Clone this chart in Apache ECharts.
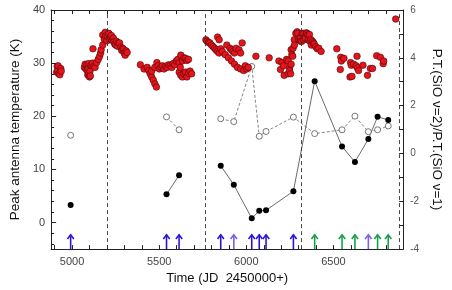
<!DOCTYPE html>
<html>
<head>
<meta charset="utf-8">
<script src="https://cdn.jsdelivr.net/npm/echarts@6/dist/echarts.min.js"></script>
<style>
html,body{margin:0;padding:0;background:#fff;}
#chart{width:452px;height:290px;}
</style>
</head>
<body>
<div id="chart"></div>
<script>
// ---- Data ----
const redJD = [4912,4915,4918,4920,4925,4930,4935,4938,
5071,5075,5080,5085,5088,5090,5092,5095,5097,5100,5103,5105,5108,5114,5118,5120,5125,5132,5141,5150,5158,5164,5167,5176,5176,5185,5190,5194,5200,5205,5211,5215,5220,5225,5230,5237,5240,5245,5250,5255,5260,5265,5273,5280,5285,5290,5295,5299,5305,5310,5316,
5392,
5413,5431,5440,5448,5457,5457,5466,5475,5475,5484,5487,5493,5501,5510,5519,5527,5536,5545,5554,5563,5572,5580,5589,5598,5607,5615,5615,5621,5624,5624,5633,5633,5642,5642,5651,5651,5659,5659,5668,5668,5677,5686,
5768,5774,5783,5791,5800,5809,5818,5826,5835,5835,5844,5844,5853,5862,5879,5888,5897,5906,5915,5915,5923,5932,5932,5941,5949,5958,5967,5967,5976,5985,5994,6002,6011,6055,6131,
6187,6196,6205,6213,6217,6231,6240,6240,6248,6248,6254,6257,6257,6261,6266,6268,6275,6276,6284,6292,6294,6301,6303,6310,6312,6318,6320,6327,6329,6336,6338,6344,6347,6353,6355,6362,6364,6371,6373,6380,6386,6389,6398,6407,6416,6429,
6519,6539,6542,6545,6560,6595,6598,6602,6606,6616,6630,6635,6638,6644,6669,6695,6712,6724,6748,6769,6785,6788,6857];
const redK = [28.3,29.4,28.6,29.5,28.0,27.8,29.0,28.5,
29.2,29.8,28.9,29.7,28.6,27.8,29.0,29.9,28.0,27.4,28.5,27.6,29.6,29.5,30.0,32.7,29.4,29.2,30.1,30.7,31.3,31.9,32.5,33.4,35.3,34.5,35.8,35.1,34.2,35.0,35.6,34.6,34.9,35.2,34.3,34.7,34.0,33.6,33.4,34.1,33.2,33.8,33.8,33.0,32.4,32.8,32.6,31.9,31.5,32.3,32.0,
29.7,
28.9,29.2,28.6,28.0,27.4,28.5,26.8,26.1,29.2,25.5,30.1,29.5,28.9,29.2,29.5,28.9,29.4,29.2,29.7,29.5,29.2,29.9,29.7,30.4,30.7,30.1,28.3,29.2,31.5,27.7,30.4,27.4,31.0,28.0,30.9,28.3,30.5,27.4,30.7,28.1,28.5,28.0,
34.4,34.1,33.9,33.8,33.4,33.1,32.8,32.5,32.2,34.9,31.9,34.4,32.7,32.2,31.6,33.4,31.0,32.8,32.5,30.4,32.2,31.9,29.8,32.8,29.2,32.5,31.9,28.9,33.8,28.6,29.5,28.9,29.2,31.3,31.0,
30.4,28.8,30.1,29.5,27.7,30.7,30.4,28.0,29.2,28.6,28.0,32.5,29.8,31.6,31.3,32.8,34.4,33.4,35.6,35.9,35.6,34.4,34.7,34.7,34.1,34.1,35.6,35.6,34.4,34.9,34.7,35.7,35.6,35.3,34.4,35.4,34.1,34.4,33.4,34.1,33.8,33.6,33.1,32.7,32.8,32.2,
32.7,28.8,31.1,30.4,30.9,27.4,30.1,29.6,27.5,29.8,29.5,31.3,29.1,28.6,29.6,27.7,29.0,29.0,31.4,31.1,29.9,30.4,38.3];

const obsJD    = [4992,5542,5614,5853,5928,6031,6074,6113,6270,6392,6549,6623,6700,6753,6814];
const filledK  = [3.3,5.3,8.9,10.7,7.1,0.8,2.2,2.3,5.9,26.6,14.3,11.4,15.7,19.9,19.3];
const openRatio= [0.76,1.53,0.99,1.45,1.33,3.64,0.72,0.92,1.52,0.83,0.99,1.56,0.91,0.99,1.15];
const segments = [[0,0],[1,2],[3,14]];
const arrowKind = ['b','b','b','b','p','b','b','b','b','g','g','g','p','g','g'];
const dashedJD = [5200,5762,6317,6878];

const xMajorTicks = [5000,5500,6000,6500];
const xMinorTicks = [4900,5000,5100,5200,5300,5400,5500,5600,5700,5800,5900,6000,6100,6200,6300,6400,6500,6600,6700,6800,6900];
const leftLabels = [0,10,20,30,40];
const leftMinor = [-4,-2,2,4,6,8,12,14,16,18,22,24,26,28,32,34,36,38];
const arrowBase = -5, arrowTip = -2.3;

// ---- Chart ----
const kindColor = {b:'#2a14dc', p:'#7d5ee6', g:'#13a04c'};
const axisColor = '#222';
const labFont = 'Liberation Sans';
const plain = v => String(v);
const chart = echarts.init(document.getElementById('chart'));

const series = [];
series.push({
  type:'line', xAxisIndex:0, yAxisIndex:0, data:[], silent:true,
  markLine:{symbol:['none','none'], silent:true, label:{show:false},
    lineStyle:{color:'#333', type:[4,3], width:0.9},
    data: dashedJD.map(v=>({xAxis:v}))}
});
segments.forEach(([a,b])=>{
  const d1=[], d2=[];
  for(let i=a;i<=b;i++){ d1.push([obsJD[i], openRatio[i]]); d2.push([obsJD[i], filledK[i]]); }
  series.push({type:'line', xAxisIndex:0, yAxisIndex:1, data:d1, symbol:'circle', symbolSize:6,
    itemStyle:{color:'#fff', borderColor:'#555', borderWidth:0.8},
    lineStyle:{color:'#666', width:0.8, type:[3,2]}, z:3, animation:false});
  series.push({type:'line', xAxisIndex:0, yAxisIndex:0, data:d2, symbol:'circle', symbolSize:6,
    itemStyle:{color:'#000', borderColor:'#000', borderWidth:0},
    lineStyle:{color:'#444', width:0.8}, z:3, animation:false});
});
series.push({type:'scatter', xAxisIndex:0, yAxisIndex:0,
  data: redJD.map((x,i)=>[x, redK[i]]), symbolSize:6.6,
  itemStyle:{color:'#e8141c', borderColor:'#4a0606', borderWidth:0.6, opacity:1}, z:4, animation:false});
series.push({type:'custom', xAxisIndex:0, yAxisIndex:0,
  data: obsJD.map((x,i)=>[x, i]),
  renderItem:function(params, api){
    const x = api.value(0); const k = arrowKind[api.value(1)];
    const c = kindColor[k];
    const p0 = api.coord([x, arrowBase]); const p1 = api.coord([x, arrowTip]);
    return {type:'group', children:[
      {type:'line', shape:{x1:p0[0], y1:p0[1], x2:p1[0], y2:p1[1]}, style:{stroke:c, lineWidth:1.6}},
      {type:'polyline', shape:{points:[[p1[0]-3.2,p1[1]+4.2],[p1[0],p1[1]],[p1[0]+3.2,p1[1]+4.2]]}, style:{stroke:c, lineWidth:1.6, fill:null}}
    ]};
  }, z:5, animation:false});

chart.setOption({
  animation:false,
  grid:{left:36, right:33, top:10, bottom:34},
  xAxis:[
    {type:'value', position:'bottom', min:4880, max:6900,
     name:'Time (JD  2450000+)', nameLocation:'middle', nameGap:20,
     nameTextStyle:{fontFamily:labFont, fontSize:13, color:'#111'},
     axisLine:{show:true, onZero:false, lineStyle:{color:axisColor, width:1}},
     axisTick:{show:true, inside:true, length:4, customValues:xMinorTicks, lineStyle:{color:axisColor}},
     axisLabel:{show:true, customValues:xMajorTicks, formatter:plain, margin:7, fontFamily:labFont, fontSize:11, color:'#444'},
     splitLine:{show:false}},
    {type:'value', position:'top', min:4880, max:6900,
     axisLine:{show:true, onZero:false, lineStyle:{color:axisColor, width:1}},
     axisTick:{show:true, inside:true, length:4, customValues:xMinorTicks, lineStyle:{color:axisColor}},
     axisLabel:{show:false}, splitLine:{show:false}}
  ],
  yAxis:[
    {type:'value', position:'left', min:-5, max:40,
     name:'Peak antenna temperature (K)', nameLocation:'middle', nameGap:17, nameRotate:90,
     nameTextStyle:{fontFamily:labFont, fontSize:13.5, color:'#111'},
     axisLine:{show:true, onZero:false, lineStyle:{color:axisColor, width:1}},
     axisTick:{show:true, inside:true, length:5, customValues:leftLabels, lineStyle:{color:axisColor}},
     axisLabel:{show:true, customValues:leftLabels, formatter:plain, margin:6, fontFamily:labFont, fontSize:11, color:'#444'},
     splitLine:{show:false}},
    {type:'value', position:'right', min:-4, max:6, interval:2,
     name:'P.T.(SiO \u03bd=2)/P.T.(SiO \u03bd=1)', nameLocation:'middle', nameGap:19, nameRotate:-90,
     nameTextStyle:{fontFamily:labFont, fontSize:13.5, color:'#111'},
     axisLine:{show:true, onZero:false, lineStyle:{color:axisColor, width:1}},
     axisTick:{show:true, inside:true, length:4, lineStyle:{color:axisColor}},
     minorTick:{show:true, splitNumber:2, length:4, lineStyle:{color:axisColor}},
     axisLabel:{show:true, margin:7, formatter:plain, fontFamily:labFont, fontSize:10, color:'#555'},
     splitLine:{show:false}, minorSplitLine:{show:false}},
    {type:'value', position:'left', min:-5, max:40,
     axisLine:{show:false}, axisLabel:{show:false}, splitLine:{show:false},
     axisTick:{show:true, inside:true, length:3, customValues:leftMinor, lineStyle:{color:axisColor}}}
  ],
  series: series
});
</script>
</body>
</html>
